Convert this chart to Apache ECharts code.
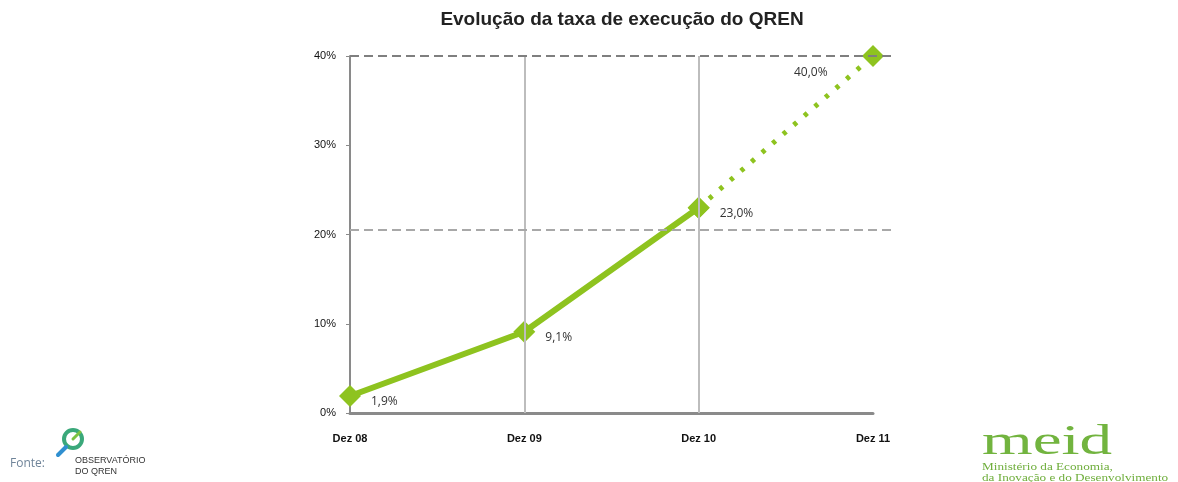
<!DOCTYPE html>
<html>
<head>
<meta charset="utf-8">
<script src="https://cdn.jsdelivr.net/npm/echarts@6/dist/echarts.min.js"></script>
<style>html,body{margin:0;padding:0;background:#fff}#c{width:1178px;height:482px}</style>
</head>
<body>
<div id="c"></div>
<script>
var categories = ['Dez 08', 'Dez 09', 'Dez 10', 'Dez 11'];
var actualValues = [1.9, 9.1, 23.0, null];
var projectedValues = [null, null, 23.0, 40.0];
var yTicks = [0, 10, 20, 30, 40];
var guideLevels = [20.5, 40];
var guideColors = ['#a8a8a8', '#7f7f7f'];
var verticalGuides = ['Dez 09', 'Dez 10'];
var titleText = 'Evolução da taxa de execução do QREN';

var green = '#8EC31F';
function fmt(v){ return v.toFixed(1).replace('.', ',') + '%'; }

var chart = echarts.init(document.getElementById('c'));
chart.setOption({
  animation: false,
  backgroundColor: '#fff',
  title: {
    text: titleText, left: 617, top: 5, textAlign: 'center',
    textStyle: { fontFamily: 'Liberation Sans, Arial', fontSize: 19, fontWeight: 'bold', color: '#222' }
  },
  grid: { left: 350, right: 305, top: 56, bottom: 69, containLabel: false },
  xAxis: {
    type: 'category', data: categories, boundaryGap: false,
    axisLine: { show: true, lineStyle: { color: '#8a8a8a', width: 3 } },
    axisTick: { show: false },
    axisLabel: { margin: 20, color: '#111', fontFamily: 'Liberation Sans Narrow, Liberation Sans, Arial', fontSize: 11, fontWeight: 'bold' },
    splitLine: { show: false }
  },
  yAxis: {
    type: 'value', min: yTicks[0], max: yTicks[yTicks.length - 1], interval: 10,
    axisLine: { show: true, lineStyle: { color: '#8a8a8a', width: 2 } },
    axisTick: { show: true, length: 4, lineStyle: { color: '#8a8a8a' } },
    axisLabel: { formatter: '{value}%', margin: 14, color: '#111', fontFamily: 'Liberation Sans Narrow, Liberation Sans, Arial', fontSize: 11 },
    splitLine: { show: false }
  },
  series: [
    {
      type: 'line', data: actualValues, connectNulls: false,
      lineStyle: { color: green, width: 6 },
      symbol: 'diamond', symbolSize: 22,
      itemStyle: { color: green },
      label: {
        show: true, position: 'right', distance: 10, offset: [0, 6],
        formatter: function(p){ return fmt(p.value); },
        color: '#333', fontFamily: 'Open Sans, Liberation Sans', fontSize: 12
      },
      markLine: {
        silent: true, symbol: 'none', label: { show: false },
        lineStyle: { color: '#bdbdbd', width: 2, type: 'solid' },
        data: verticalGuides.map(function(c){ return { xAxis: c }; })
      },
      z: 3
    },
    {
      type: 'line', data: projectedValues,
      lineStyle: { color: green, width: 5, type: [4, 10] },
      symbol: 'diamond', symbolSize: 22,
      itemStyle: { color: green },
      label: {
        show: true, position: 'right', distance: 10, offset: [0, 0],
        formatter: function(p){ return p.dataIndex === 2 ? '' : fmt(p.value); },
        color: '#333', fontFamily: 'Open Sans, Liberation Sans', fontSize: 12
      },
      labelLayout: function(params){
        if (params.dataIndex === 3) {
          return { x: params.rect.x - 68, y: params.rect.y + 22 };
        }
      },
      markLine: {
        silent: true, symbol: 'none', label: { show: false },
        lineStyle: { width: 2, type: [9, 5] },
        data: guideLevels.map(function(v, i){
          return [{ xAxis: 'Dez 08', yAxis: v, lineStyle: { color: guideColors[i] } }, { x: 892, yAxis: v }];
        })
      },
      z: 4
    }
  ],
  graphic: [
    { type: 'text', left: 10, top: 458, style: { text: 'Fonte:', fill: '#6f8499', font: '12px "Open Sans", sans-serif' } },
    { type: 'circle', shape: { cx: 73, cy: 439, r: 9 }, style: { fill: 'none', stroke: '#3aa87a', lineWidth: 4 } },
    { type: 'line', shape: { x1: 66, y1: 447, x2: 58, y2: 455 }, style: { stroke: '#2f8fd0', lineWidth: 4, lineCap: 'round' } },
    { type: 'line', shape: { x1: 73, y1: 439, x2: 80, y2: 432 }, style: { stroke: '#7cc242', lineWidth: 3, lineCap: 'round' } },
    { type: 'text', left: 75, top: 456, style: { text: 'OBSERVATÓRIO', fill: '#333', font: '9px "Liberation Sans Narrow", sans-serif' } },
    { type: 'text', left: 75, top: 467, style: { text: 'DO QREN', fill: '#333', font: '9px "Liberation Sans Narrow", sans-serif' } },
    { type: 'text', x: 982, y: 464, scaleX: 1.55, style: { x: 0, y: 0, text: 'meid', fill: '#72b43f', font: '42px "Liberation Serif", "DejaVu Serif", serif', textVerticalAlign: 'bottom' } },
    { type: 'text', x: 982, y: 467, scaleX: 1.2, style: { x: 0, y: 0, text: 'Ministério da Economia,', fill: '#6fae3c', font: '11px "Liberation Serif", serif', textVerticalAlign: 'middle' } },
    { type: 'text', x: 982, y: 478, scaleX: 1.2, style: { x: 0, y: 0, text: 'da Inovação e do Desenvolvimento', fill: '#6fae3c', font: '11px "Liberation Serif", serif', textVerticalAlign: 'middle' } }
  ]
});
</script>
</body>
</html>
